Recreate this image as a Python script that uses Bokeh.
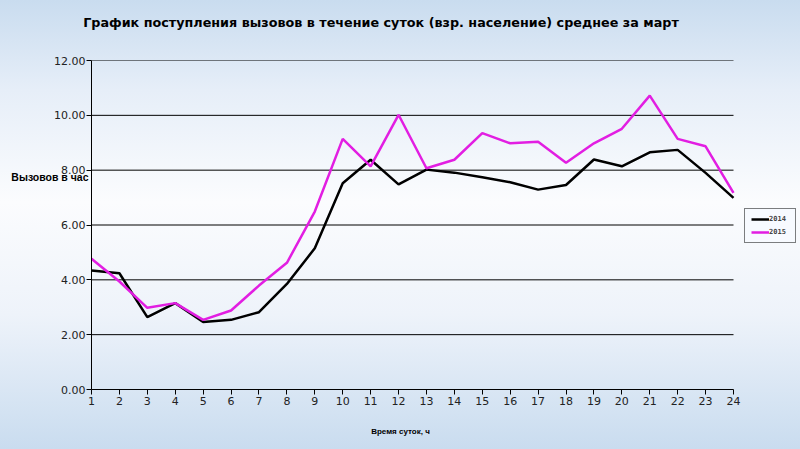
from bokeh.plotting import figure
from bokeh.models import Legend, LegendItem, PrintfTickFormatter, FixedTicker, LinearAxis
from bokeh.embed import file_html
from bokeh.resources import INLINE

hours = list(range(1, 25))
calls_2014 = [4.34, 4.24, 2.64, 3.15, 2.46, 2.54, 2.82, 3.85, 5.15, 7.52, 8.38, 7.48,
              8.02, 7.91, 7.74, 7.56, 7.29, 7.46, 8.39, 8.14, 8.65, 8.74, 7.90, 6.99]
calls_2015 = [4.77, 3.94, 2.98, 3.15, 2.54, 2.88, 3.79, 4.62, 6.49, 9.14, 8.14, 10.02,
              8.07, 8.38, 9.35, 8.98, 9.04, 8.27, 8.98, 9.51, 10.72, 9.14, 8.87, 7.17]
y_ticks = [0, 2, 4, 6, 8, 10, 12]
series_names = ["2014", "2015"]
title_text = "График поступления вызовов в течение суток (взр. население) среднее за март"
y_label = "Вызовов в час"
x_label = "Время суток, ч"

# layout geometry (pixels)
W, H = 800, 449
frame_left, data_right = 91, 733
px_per_hour = (data_right - frame_left) / (hours[-1] - hours[0])
x_end = hours[-1] + (W - data_right) / px_per_hour

p = figure(width=W, height=H, output_backend="svg", toolbar_location=None,
           x_range=(hours[0], x_end), y_range=(y_ticks[0], y_ticks[-1]),
           min_border_left=frame_left, min_border_right=0, min_border_top=60,
           min_border_bottom=60)
p.background_fill_alpha = 0
p.border_fill_alpha = 0
p.outline_line_color = None
p.grid.grid_line_color = None

# horizontal gridlines across the data area
p.segment(x0=hours[0], x1=hours[-1], y0=y_ticks[1:], y1=y_ticks[1:],
          line_color="black", line_width=1)

p.yaxis.ticker = FixedTicker(ticks=y_ticks)
p.yaxis.formatter = PrintfTickFormatter(format="%.2f")
p.xaxis.ticker = FixedTicker(ticks=hours)
p.xaxis.bounds = (hours[0], hours[-1])
for ax in (p.xaxis, p.yaxis):
    ax.axis_line_color = "black"
    ax.major_tick_line_color = "black"
    ax.major_tick_out = 5
    ax.major_tick_in = 0
    ax.minor_tick_line_color = None
    ax.major_label_text_font = "DejaVu Sans"
    ax.major_label_text_font_size = "11px"
    ax.major_label_text_color = "#222222"
p.yaxis.major_label_standoff = 1
p.xaxis.major_label_standoff = 2


def text_axis(pos, text, standoff, size, font="Liberation Sans"):
    ax = LinearAxis(ticker=FixedTicker(ticks=[pos]), major_label_overrides={pos: text})
    ax.axis_line_color = None
    ax.major_tick_line_color = None
    ax.minor_tick_line_color = None
    ax.major_tick_out = 0
    ax.major_tick_in = 0
    ax.major_label_standoff = standoff
    ax.major_label_text_font = font
    ax.major_label_text_font_style = "bold"
    ax.major_label_text_font_size = size
    ax.major_label_text_color = "black"
    return ax


# chart title (above), y title (left, horizontal), x title (below)
p.add_layout(text_axis(11.37, title_text, 31, "12.75px", "DejaVu Sans"), "above")
p.add_layout(text_axis(7.75, y_label, -37, "10.5px"), "left")
p.add_layout(text_axis(12.07, x_label, 19, "8px"), "below")

r1 = p.line(hours, calls_2014, line_color="black", line_width=2.5)
r2 = p.line(hours, calls_2015, line_color="#e21ee2", line_width=2.5)

legend = Legend(items=[LegendItem(label=series_names[0], renderers=[r1]),
                       LegendItem(label=series_names[1], renderers=[r2])],
                location=(653, 146), orientation="vertical")
legend.border_line_color = "black"
legend.border_line_width = 1
legend.background_fill_color = "#f7faff"
legend.background_fill_alpha = 1
legend.label_text_font = "DejaVu Sans Mono"
legend.label_text_font_style = "bold"
legend.label_text_font_size = "7px"
legend.glyph_width = 18
legend.glyph_height = 8
legend.label_height = 8
legend.label_standoff = 0
legend.spacing = 5
legend.padding = 6
legend.margin = 0
p.add_layout(legend, "center")

html = file_html(p, INLINE)
style = ("<style>html,body{background:linear-gradient(to bottom,#c9dcef 0%,#e6eef8 20%,"
         "#fbfcfe 45%,#eef3fa 70%,#c9dcef 100%);min-height:100%;}</style>")
html = html.replace("</head>", style + "</head>", 1)
open("out.html", "w").write(html)
